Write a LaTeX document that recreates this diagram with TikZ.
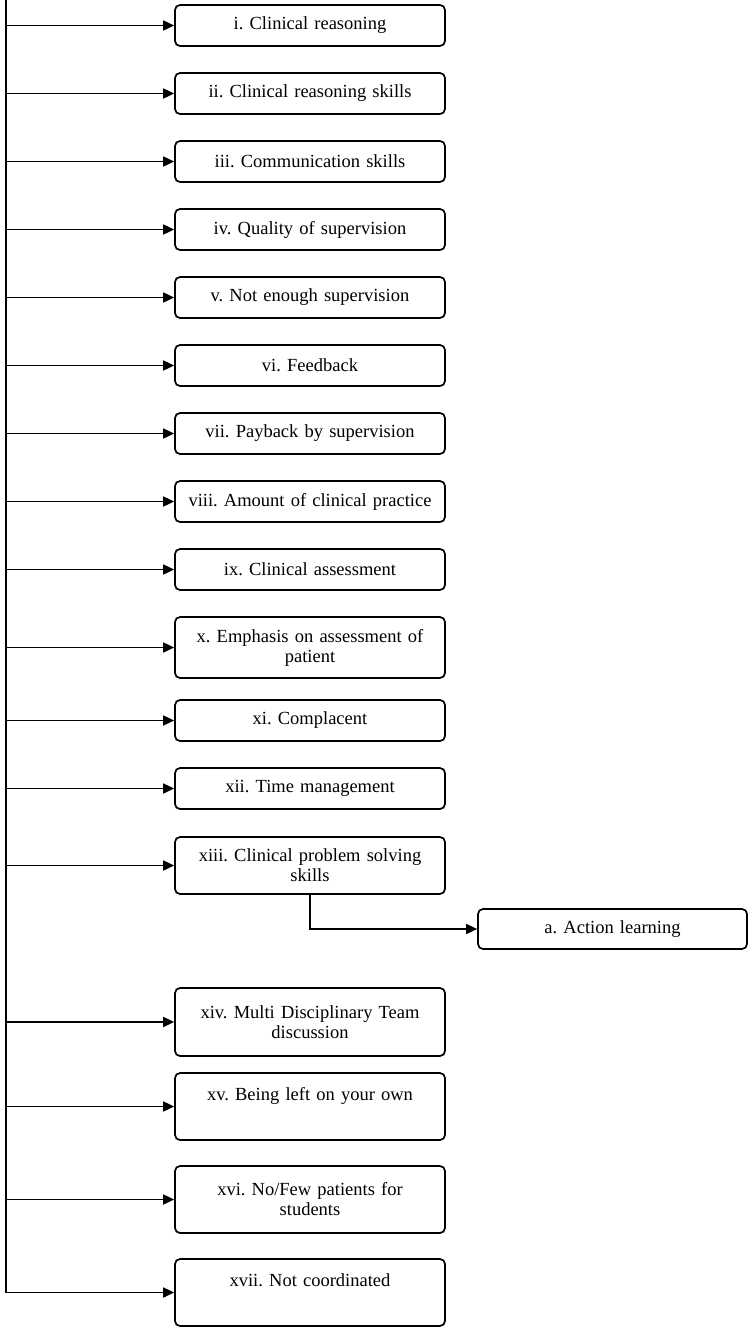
\documentclass[tikz,border=0pt]{standalone}
\usepackage{fontspec}
\setmainfont{Liberation Serif}
\usetikzlibrary{arrows.meta}

\begin{document}
\frenchspacing
\begin{tikzpicture}[x=1pt,y=-1pt,
  line width=1.7pt,
  stepbox/.style={draw, rounded corners=5pt, inner sep=0pt,
    minimum width=270pt, text width=262pt, align=center,
    font=\fontsize{18.5}{20}\selectfont},
  arr/.style={-{Triangle[length=11pt,width=10pt]}, line width=1.7pt}
]
\useasboundingbox (0,0) rectangle (748,1327);

% main column of boxes (centre x, centre y)
\node[stepbox, minimum height=41pt] (b1)  at (310,25.5)  {i. Clinical reasoning};
\node[stepbox, minimum height=41pt] (b2)  at (310,93.5)  {ii. Clinical reasoning skills};
\node[stepbox, minimum height=41pt] (b3)  at (310,161.5) {iii. Communication skills};
\node[stepbox, minimum height=41pt] (b4)  at (310,229.5) {iv. Quality of supervision};
\node[stepbox, minimum height=41pt] (b5)  at (310,297.5) {v. Not enough supervision};
\node[stepbox, minimum height=41pt] (b6)  at (310,365.5) {vi. Feedback};
\node[stepbox, minimum height=41pt] (b7)  at (310,433.5) {vii. Payback by supervision};
\node[stepbox, minimum height=41pt] (b8)  at (310,501.5) {viii. Amount of clinical practice};
\node[stepbox, minimum height=41pt] (b9)  at (310,569.5) {ix. Clinical assessment};
\node[stepbox, minimum height=61pt] (b10) at (310,647.5) {x. Emphasis on assessment of\\patient};
\node[stepbox, minimum height=41pt] (b11) at (310,720.5) {xi. Complacent};
\node[stepbox, minimum height=41pt] (b12) at (310,788.5) {xii. Time management};
\node[stepbox, minimum height=57pt] (b13) at (310,865.5) {xiii. Clinical problem solving\\skills};
\node[stepbox, minimum height=68pt] (b14) at (310,1022)  {xiv. Multi Disciplinary Team\\discussion};
\node[stepbox, minimum height=67pt, text depth=25pt] (b15) at (310,1106.5) {xv. Being left on your own};
\node[stepbox, minimum height=67pt] (b16) at (310,1199.5) {xvi. No/Few patients for\\students};
\node[stepbox, minimum height=67pt, text depth=25pt] (b17) at (310,1292.5) {xvii. Not coordinated};

% side box
\node[stepbox, minimum width=269pt, minimum height=40pt] (ba) at (612.5,929) {a. Action learning};

% trunk on the left
\coordinate (ttop) at (6,0);
\coordinate (tbot) at (6,1292.5);
\draw (ttop) -- (tbot);

% branches into each box
\foreach \b in {b1,b2,b3,b4,b5,b6,b7,b8,b9,b10,b11,b12,b13,b14,b15,b16,b17}
  \draw[arr] (\b.west -| ttop) -- (\b.west);

% elbow from problem solving to action learning
\draw[arr] (b13.south) |- (ba.west);
\end{tikzpicture}
\end{document}
